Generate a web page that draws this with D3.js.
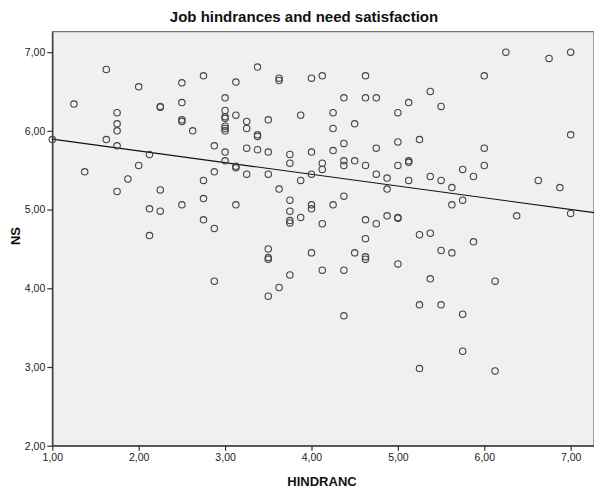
<!DOCTYPE html>
<html>
<head>
<meta charset="utf-8">
<script src="https://cdn.jsdelivr.net/npm/d3@7/dist/d3.min.js"></script>
<style>
  html, body { margin: 0; padding: 0; background: #fff; }
  svg { display: block; font-family: "Liberation Sans", Arial, sans-serif; }
</style>
</head>
<body>
<svg id="chart" width="594" height="493"></svg>
<script>
// Job hindrances (HINDRANC) against need satisfaction (NS), one circle per respondent
const hindranc = [
  1.00, 1.25, 1.375, 1.625, 1.625, 1.75, 1.75, 1.75, 1.75, 1.75, 1.875,
  2.00, 2.00, 2.125, 2.125, 2.125, 2.25, 2.25, 2.25, 2.25,
  2.50, 2.50, 2.50, 2.50, 2.50, 2.625, 2.75, 2.75, 2.75, 2.75,
  2.875, 2.875, 2.875, 2.875,
  3.00, 3.00, 3.00, 3.00, 3.00, 3.00, 3.00, 3.00, 3.00,
  3.125, 3.125, 3.125, 3.125, 3.125, 3.25, 3.25, 3.25, 3.25,
  3.375, 3.375, 3.375, 3.375,
  3.50, 3.50, 3.50, 3.50, 3.50, 3.50, 3.50,
  3.625, 3.625, 3.625, 3.625,
  3.75, 3.75, 3.75, 3.75, 3.75, 3.75, 3.75,
  3.875, 3.875, 3.875,
  4.00, 4.00, 4.00, 4.00, 4.00, 4.00,
  4.125, 4.125, 4.125, 4.125, 4.125,
  4.25, 4.25, 4.25, 4.25,
  4.375, 4.375, 4.375, 4.375, 4.375, 4.375, 4.375,
  4.50, 4.50, 4.50,
  4.625, 4.625, 4.625, 4.625, 4.625, 4.625, 4.625,
  4.75, 4.75, 4.75, 4.75,
  4.875, 4.875, 4.875,
  5.00, 5.00, 5.00, 5.00, 5.00, 5.00,
  5.125, 5.125, 5.125, 5.125,
  5.25, 5.25, 5.25, 5.25,
  5.375, 5.375, 5.375, 5.375,
  5.50, 5.50, 5.50, 5.50,
  5.625, 5.625, 5.625,
  5.75, 5.75, 5.75, 5.75,
  5.875, 5.875,
  6.00, 6.00, 6.00,
  6.125, 6.125, 6.25, 6.375, 6.625, 6.75, 6.875,
  7.00, 7.00, 7.00
];
const ns = [
  5.89, 6.34, 5.48, 6.78, 5.89, 6.23, 6.09, 6.00, 5.81, 5.23, 5.39,
  6.56, 5.56, 5.70, 5.01, 4.67, 6.31, 6.30, 5.25, 4.98,
  6.61, 6.36, 6.14, 6.12, 5.06, 6.00, 6.70, 5.37, 5.14, 4.87,
  5.81, 5.48, 4.76, 4.09,
  6.42, 6.26, 6.18, 6.16, 6.06, 6.03, 6.00, 5.73, 5.62,
  6.62, 6.20, 5.55, 5.53, 5.06, 6.12, 6.03, 5.78, 5.45,
  6.81, 5.95, 5.93, 5.76,
  6.14, 5.73, 5.45, 4.50, 4.39, 4.37, 3.90,
  6.67, 6.64, 5.26, 4.01,
  5.70, 5.59, 5.12, 4.98, 4.86, 4.83, 4.17,
  6.20, 5.37, 4.90,
  6.67, 5.73, 5.45, 5.06, 5.01, 4.45,
  6.70, 5.59, 5.51, 4.82, 4.23,
  6.23, 6.03, 5.75, 5.06,
  6.42, 5.84, 5.62, 5.56, 5.17, 4.23, 3.65,
  6.09, 5.62, 4.45,
  6.70, 6.42, 5.56, 4.87, 4.63, 4.40, 4.37,
  6.42, 5.78, 5.45, 4.82,
  5.40, 5.26, 4.92,
  6.23, 5.86, 5.56, 4.90, 4.89, 4.31,
  6.36, 5.62, 5.60, 5.37,
  5.89, 4.68, 3.79, 2.98,
  6.50, 5.42, 4.70, 4.12,
  6.31, 5.37, 4.48, 3.79,
  5.28, 5.06, 4.45,
  5.51, 5.12, 3.67, 3.20,
  5.42, 4.59,
  6.70, 5.78, 5.56,
  4.09, 2.95, 7.00, 4.92, 5.37, 6.92, 5.28,
  7.00, 5.95, 4.95
];

// Linear fit line: NS = fitIntercept + fitSlope * HINDRANC
const fitIntercept = 6.044;
const fitSlope = -0.149;

const xTicks = [1, 2, 3, 4, 5, 6, 7];
const yTicks = [2, 3, 4, 5, 6, 7];
const xDomain = [1, 7.27];
const yDomain = [2, 7.26];

const titleText = "Job hindrances and need satisfaction";
const xLabel = "HINDRANC";
const yLabel = "NS";

const svg = d3.select("#chart");
const plotLeft = 52.3, plotRight = 594, plotTop = 31.7, plotBottom = 445.7;

const x = d3.scaleLinear().domain(xDomain).range([plotLeft, plotRight]);
const y = d3.scaleLinear().domain(yDomain).range([plotBottom, plotTop]);
const fmt = v => d3.format(".2f")(v).replace(".", ",");

// plot background and frame
svg.append("rect")
  .attr("x", plotLeft).attr("y", plotTop)
  .attr("width", plotRight - plotLeft).attr("height", plotBottom - plotTop)
  .attr("fill", "#f0f0f0")
  .attr("stroke", "#555").attr("stroke-width", 1);

// axes
const xAxis = svg.append("g")
  .attr("transform", `translate(0,${plotBottom})`)
  .call(d3.axisBottom(x).tickValues(xTicks).tickFormat(fmt).tickSizeOuter(0).tickSizeInner(5).tickPadding(3));
const yAxis = svg.append("g")
  .attr("transform", `translate(${plotLeft},0)`)
  .call(d3.axisLeft(y).tickValues(yTicks).tickFormat(fmt).tickSizeOuter(0).tickSizeInner(5).tickPadding(2));

[xAxis, yAxis].forEach(g => {
  g.select(".domain").attr("stroke", "#333").attr("stroke-width", 1.3);
  g.selectAll(".tick line").attr("stroke", "#333").attr("stroke-width", 1.2);
  g.selectAll(".tick text")
    .attr("fill", "#222")
    .style("font-size", "10.5px")
    .style("font-family", "'Liberation Sans', Arial, sans-serif");
});

// regression line
const x0 = xDomain[0], x1 = xDomain[1];
svg.append("line")
  .attr("x1", x(x0)).attr("y1", y(fitIntercept + fitSlope * x0))
  .attr("x2", x(x1)).attr("y2", y(fitIntercept + fitSlope * x1))
  .attr("stroke", "#111").attr("stroke-width", 1.2);

// points
const pts = hindranc.map((h, i) => ({ h, n: ns[i] }));
svg.append("g").selectAll("circle")
  .data(pts).join("circle")
  .attr("cx", d => x(d.h))
  .attr("cy", d => y(d.n))
  .attr("r", 3.2)
  .attr("fill", "none")
  .attr("stroke", "#444")
  .attr("stroke-width", 1.1);

// title and axis labels
svg.append("text")
  .attr("x", 304).attr("y", 22)
  .attr("text-anchor", "middle")
  .style("font-size", "15px").style("font-weight", "bold")
  .attr("fill", "#111")
  .text(titleText);

svg.append("text")
  .attr("x", 322).attr("y", 486)
  .attr("text-anchor", "middle")
  .style("font-size", "13px").style("font-weight", "bold")
  .attr("fill", "#111")
  .text(xLabel);

svg.append("text")
  .attr("transform", "translate(20,236) rotate(-90)")
  .attr("text-anchor", "middle")
  .style("font-size", "13px").style("font-weight", "bold")
  .attr("fill", "#111")
  .text(yLabel);
</script>
</body>
</html>
